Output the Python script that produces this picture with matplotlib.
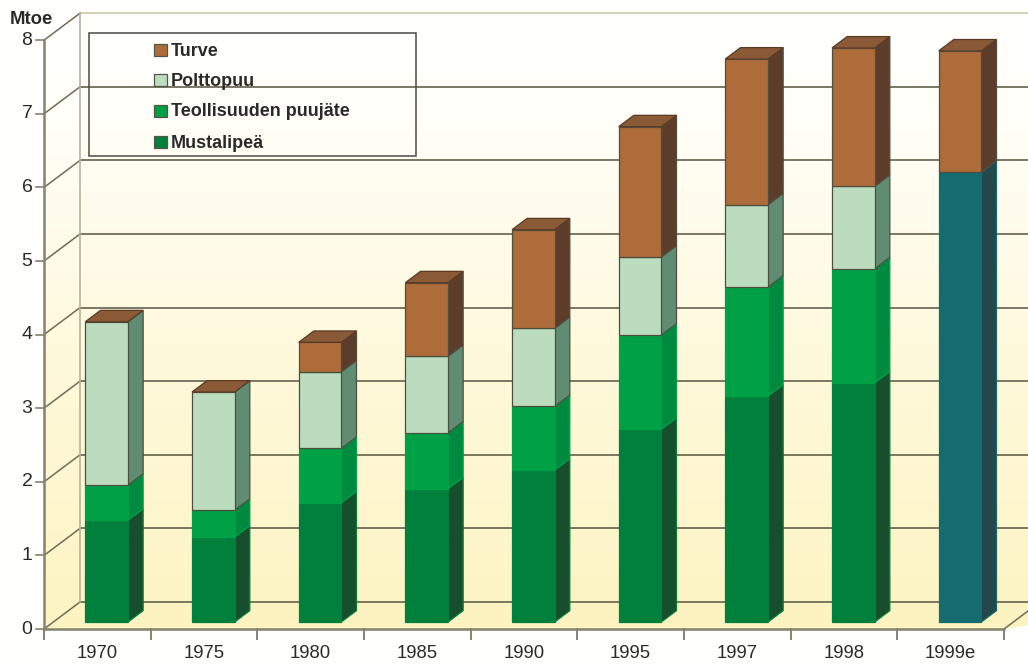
import numpy as np
import matplotlib
matplotlib.use("Agg")
import matplotlib.pyplot as plt
from matplotlib.patches import Polygon, Rectangle
from matplotlib.colors import LinearSegmentedColormap

# Energy use by source, Mtoe (segment heights, stacked from the floor)
years = ["1970", "1975", "1980", "1985", "1990", "1995", "1997", "1998", "1999e"]
mustalipea = [1.385, 1.155, 1.62, 1.81, 2.065, 2.62, 3.07, 3.25, 0.0]
teollisuus = [0.475, 0.365, 0.74, 0.76, 0.865, 1.28, 1.48, 1.55, 0.0]
polttopuu = [2.22, 1.605, 1.04, 1.04, 1.06, 1.06, 1.12, 1.12, 0.0]
turve = [0.0, 0.0, 0.40, 1.00, 1.34, 1.77, 1.98, 1.88, 1.65]
yhteensa_puu = [0, 0, 0, 0, 0, 0, 0, 0, 6.11]

# (name, values, front, side)
stack = [
    ("Mustalipeä", mustalipea, "#00803c", "#174f2e"),
    ("Teollisuuden puujäte", teollisuus, "#00a046", "#008a40"),
    ("Puu yhteensä", yhteensa_puu, "#146c6e", "#23474a"),
    ("Polttopuu", polttopuu, "#bcdcc0", "#5f8c72"),
    ("Turve", turve, "#ae6c3a", "#5e3c2a"),
]
legend_names = ["Turve", "Polttopuu", "Teollisuuden puujäte", "Mustalipeä"]
legend_colors = ["#ae6c3a", "#bcdcc0", "#00a046", "#00803c"]

W, H = 1028, 664
X0, Y0 = 44.0, 629.0        # pixel position of the front origin
CAT_PX, UNIT_PX = 106.67, 73.6
DX, DY = 36 / CAT_PX, 27 / UNIT_PX  # shift of full chart depth, in data units
BAR_W = 0.40
D_FRONT, D_BACK = 0.26, 0.68
N = len(years)
YMAX = 8

plt.rcParams["font.family"] = ["Liberation Sans", "DejaVu Sans"]
fig = plt.figure(figsize=(W / 100, H / 100), dpi=100, facecolor="#fffffd")
ax = fig.add_axes([0, 0, 1, 1])
ax.set_xlim(-X0 / CAT_PX, (W - X0) / CAT_PX)
ax.set_ylim(-(H - Y0) / UNIT_PX, Y0 / UNIT_PX)
ax.axis("off")


def P(x, v, d=0.0):
    return (x + d * DX, v + d * DY)


GRID = "#6f6c58"
AXIS = "#85836f"
TEXT = "#2a2a2a"
x_far = ax.get_xlim()[1] + 1

# Walls with a white-to-cream vertical gradient
cmap = LinearSegmentedColormap.from_list(
    "wall", [(0, "#fdf4c2"), (0.45, "#fff9dc"), (0.85, "#fffffa"), (1, "#fffffd")]
)
grad = np.linspace(1, 0, 256).reshape(-1, 1)
img = ax.imshow(grad, cmap=cmap, aspect="auto", vmin=0, vmax=1,
                extent=(ax.get_xlim()[0], ax.get_xlim()[1], 0, YMAX + DY),
                zorder=1)
wall = Polygon([P(0, 0), P(0, YMAX), P(0, YMAX, 1), P(x_far, YMAX, 1),
                P(x_far, 0, 1), P(N, 0, 1), P(N, 0), P(0, 0)],
               closed=True, transform=ax.transData, fc="none", ec="none")
ax.add_patch(wall)
img.set_clip_path(wall)

# Floor
ax.add_patch(Polygon([P(0, 0), P(0, 0, 1), P(x_far, 0, 1), P(N, 0)],
                     closed=True, fc="#fcf3c0", ec="none", zorder=2))

# Gridlines on the back and side walls
ys = np.arange(0, YMAX + 1)
for v in ys:
    c = "#cfcdb0" if v == YMAX else GRID
    ax.plot(*zip(P(0, v, 1), P(x_far, v, 1)), color=c, lw=1.3, zorder=3)
    ax.plot(*zip(P(0, v), P(0, v, 1)), color=GRID, lw=1.1, zorder=3)
ax.plot(*zip(P(0, 0, 1), P(0, YMAX, 1)), color="#b5b39a", lw=1.2, zorder=3)
ax.plot(*zip(P(N, 0), P(N, 0, 1)), color=GRID, lw=1.1, zorder=3)


def box(i, low, high, front, side, top, outline, z):
    xl = i + 0.5 - BAR_W / 2
    xr = i + 0.5 + BAR_W / 2
    ax.add_patch(Polygon([P(xr, low, D_FRONT), P(xr, low, D_BACK),
                          P(xr, high, D_BACK), P(xr, high, D_FRONT)],
                         closed=True, fc=side, ec=outline, lw=0.9, zorder=z))
    ax.add_patch(Rectangle(P(xl, low, D_FRONT), BAR_W, high - low,
                           fc=front, ec=outline, lw=0.9, zorder=z + 0.1))
    if top is not None:
        ax.add_patch(Polygon([P(xl, high, D_FRONT), P(xl, high, D_BACK),
                              P(xr, high, D_BACK), P(xr, high, D_FRONT)],
                             closed=True, fc=top, ec="#5a3a24", lw=0.9,
                             zorder=z + 0.2))


for i in range(N):
    base = 0.0
    segs = [s for s in stack if s[1][i] > 0]
    for k, (name, vals, front, side) in enumerate(segs):
        h = vals[i]
        # Every column is closed by a brown cap, also where peat is negligible
        cap = "#8a5a36" if k == len(segs) - 1 else None
        outline = "#4f4f40" if name in ("Polttopuu", "Turve") else front
        box(i, base, base + h, front, side, cap, outline, 5 + k)
        base += h

# Axes lines and ticks
ax.plot([0, 0], [0, YMAX], color=AXIS, lw=1.8, zorder=20)
ax.plot([0, N], [0, 0], color=AXIS, lw=1.8, zorder=20)
for v in ys:
    ax.plot([-8 / CAT_PX, 0], [v, v], color=AXIS, lw=1.2, zorder=20)
    ax.text(-11.5 / CAT_PX, v, str(v), ha="right", va="center", fontsize=14,
            color=TEXT, zorder=21)
for i in range(N + 1):
    ax.plot([i, i], [0, -10 / UNIT_PX], color=AXIS, lw=1.4, zorder=20)
for i, lab in enumerate(years):
    ax.text(i + 0.5, -25 / UNIT_PX, lab, ha="center", va="center", fontsize=13.3,
            color=TEXT, zorder=21)


def px(x, y):
    return (x / W, 1 - y / H)


ax.text(*px(10, 19.5), "Mtoe", transform=ax.transAxes, ha="left", va="center",
        fontsize=13.3, fontweight="bold", color=TEXT, zorder=21)

# Legend frame, swatches and labels
ax.add_patch(Rectangle(px(89, 156), 327 / W, 123 / H, transform=ax.transAxes,
                       fc="none", ec="#4a4a44", lw=1.1, zorder=4))
for y, name, col in zip([50, 80, 111, 142], legend_names, legend_colors):
    ax.add_patch(Rectangle(px(154, y + 6), 13 / W, 12 / H, transform=ax.transAxes,
                           fc=col, ec="#555548", lw=0.9, zorder=22))
    ax.text(*px(171, y + 1), name, transform=ax.transAxes, ha="left", va="center",
            fontsize=13, fontweight="bold", color=TEXT, zorder=22)

fig.savefig("out.png", dpi=100, facecolor=fig.get_facecolor())
